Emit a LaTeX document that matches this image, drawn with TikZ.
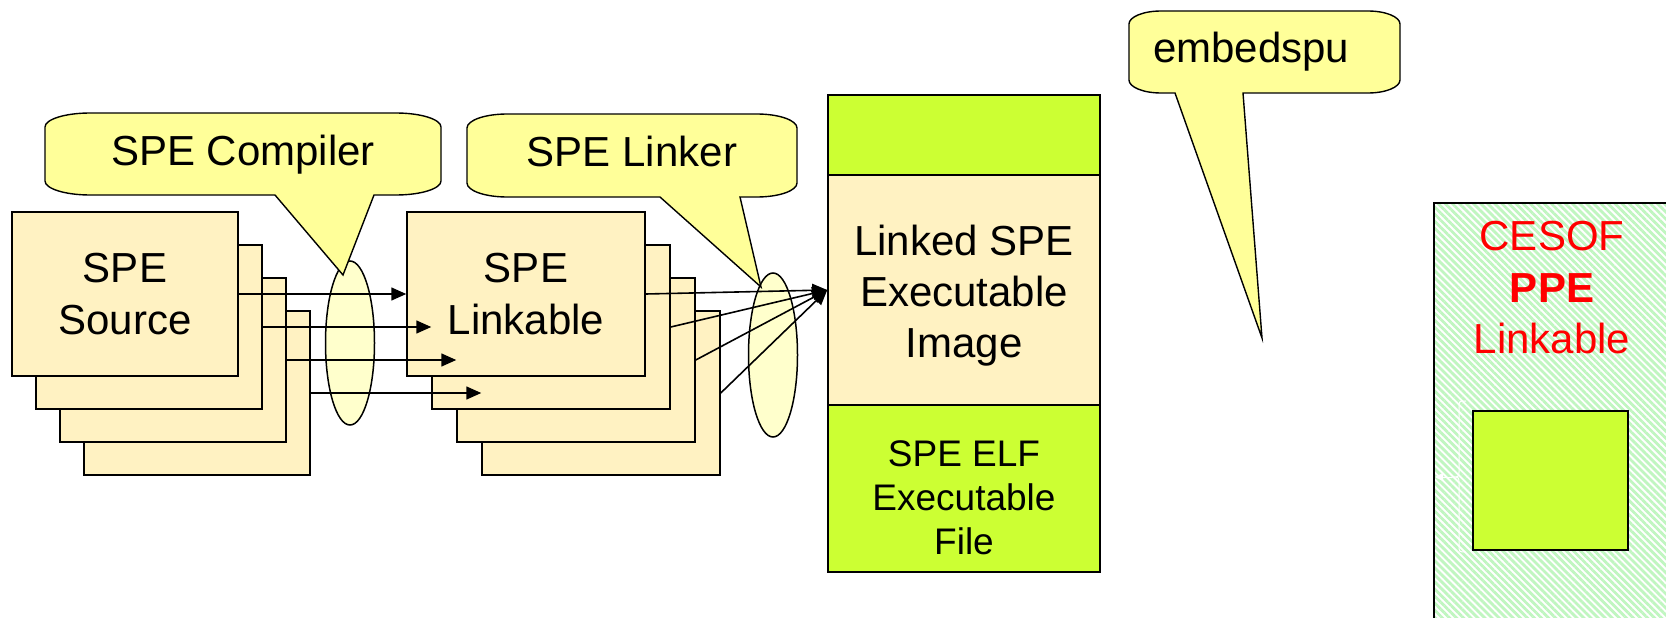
\documentclass[tikz,border=0pt]{standalone}
\usepackage{fontspec}
\setmainfont{Liberation Sans}
\usetikzlibrary{arrows.meta,shapes.geometric,patterns.meta}
\definecolor{cream}{RGB}{255,242,194}
\definecolor{bubbleY}{RGB}{255,255,153}
\definecolor{ellY}{RGB}{255,255,204}
\definecolor{limeG}{RGB}{204,255,51}
\definecolor{hatchG}{RGB}{192,246,192}
\tikzset{
  stackbox/.style={draw=black, fill=cream, line width=1.5pt, inner sep=0pt,
    minimum height=164pt, align=center, font=\fontsize{42}{52}\selectfont},
  srcbox/.style={stackbox, minimum width=226pt},
  lnkbox/.style={stackbox, minimum width=238pt},
  lens/.style={ellipse, draw=black, fill=ellY, line width=1.5pt, inner sep=0pt,
    minimum width=49pt, minimum height=164pt},
  arr/.style={line width=1.6pt, -{Triangle[length=15pt,width=13pt]}},
  bubble/.style={draw=black, fill=bubbleY, line width=1.4pt, line join=miter},
  lbl/.style={font=\fontsize{42}{52}\selectfont, inner sep=0pt},
  section/.style={draw=black, line width=1.5pt, inner sep=0pt, minimum width=272pt}
}
\begin{document}
\begin{tikzpicture}[x=1pt,y=-1pt]
\useasboundingbox (0,0) rectangle (1666,618);
\begin{scope}
\clip (0,0) rectangle (1666,618);

% SPE source stack
\node[srcbox] (src4) at (197,393) {};
\node[srcbox] (src3) at (173,360) {};
\node[srcbox] (src2) at (149,327) {};
\node[srcbox] (src1) at (125,294) {SPE\\Source};

% SPE linkable stack
\node[lnkbox] (lnk4) at (601,393) {};
\node[lnkbox] (lnk3) at (576,360) {};
\node[lnkbox] (lnk2) at (551,327) {};
\node[lnkbox] (lnk1) at (526,294) {SPE\\Linkable};

% lenses
\node[lens] (ell1) at (350,343) {};
\node[lens] (ell2) at (773,355) {};

% executable column
\node[section, fill=limeG, minimum height=80pt] (imgtop) at (964,135) {};
\node[section, fill=cream, minimum height=230pt] (img) at (964,290) {};
\node[font=\fontsize{42}{51}\selectfont, align=center, inner sep=0pt] (imgtxt)
  at (964,296) {Linked SPE\\Executable\\Image};
\node[section, fill=limeG, minimum height=167pt] (elf) at (964,488.5) {};
\node[font=\fontsize{37}{44}\selectfont, align=center, inner sep=0pt] (elftxt)
  at (964,497.5) {SPE ELF\\Executable\\File};

% arrows source -> linkable
\draw[arr] (src1.east) -- (lnk1.west);
\draw[arr] (src2.east) -- (lnk2.west);
\draw[arr] (src3.east) -- (lnk3.west);
\draw[arr] (src4.east) -- (lnk4.west);

% arrows linkable -> image
\draw[arr] (lnk1.east) -- (img.west);
\draw[arr] (lnk2.east) -- (img.west);
\draw[arr] (lnk3.east) -- (img.west);
\draw[arr] (lnk4.east) -- (img.west);

% callouts
\draw[bubble] (90,113) -- (396,113) .. controls (420.8,113) and (441,119.3) .. (441,127)
  -- (441,181) .. controls (441,188.7) and (420.8,195) .. (396,195) -- (374,195) -- (343,275)
  -- (275,195) -- (90,195) .. controls (65.2,195) and (45,188.7) .. (45,181) -- (45,127)
  .. controls (45,119.3) and (65.2,113) .. (90,113) -- cycle;
\node[lbl, anchor=base] (tcomp) at (243,165) {SPE Compiler};

\draw[bubble] (507,114) -- (757,114) .. controls (779,114) and (797,120.3) .. (797,128)
  -- (797,183) .. controls (797,190.7) and (779,197) .. (757,197) -- (740,197) -- (761,287)
  -- (660,197) -- (507,197) .. controls (485,197) and (467,190.7) .. (467,183) -- (467,128)
  .. controls (467,120.3) and (485,114) .. (507,114) -- cycle;
\node[lbl, anchor=base] (tlink) at (632,166) {SPE Linker};

\draw[bubble] (1161,11) -- (1368,11) .. controls (1385.6,11) and (1400,16.8) .. (1400,24)
  -- (1400,80) .. controls (1400,87.2) and (1385.6,93) .. (1368,93) -- (1243,93) -- (1262,338)
  -- (1175,93) -- (1161,93) .. controls (1143.4,93) and (1129,87.2) .. (1129,80) -- (1129,24)
  .. controls (1129,16.8) and (1143.4,11) .. (1161,11) -- cycle;
\node[lbl, anchor=base west] (temb) at (1153,63) {embedspu};

% CESOF PPE linkable
\fill[white] (1434,203) rectangle (1700,700);
\path[pattern={Lines[angle=-45,distance=5pt,line width=2.8pt]}, pattern color=hatchG]
  (1434,203) rectangle (1700,700);
\draw[black, line width=1.5pt] (1700,203) -- (1434,203) -- (1434,700);
\node[lbl, text=red, align=center, font=\fontsize{42}{51.5}\selectfont] (cesof)
  at (1552,288) {CESOF\\\textbf{PPE}\\Linkable};
\node[draw=black, fill=limeG, line width=1.5pt, minimum width=155pt,
  minimum height=139pt, inner sep=0pt] (ppe) at (1550.5,480.5) {};
\coordinate (bracetip) at (1452,477);
\coordinate (cesofw) at (1435,477);
\draw[white, line width=1pt] (1466,401) .. controls (1459,401) .. (1459,408)
  -- (1459,470) .. controls (1459,477) .. (bracetip)
  .. controls (1459,477) .. (1459,484) -- (1459,545)
  .. controls (1459,552) .. (1466,552);
\draw[white, line width=1pt, -{Triangle[length=8pt,width=8pt]}] (bracetip) -- (cesofw);
\end{scope}
\end{tikzpicture}
\end{document}
